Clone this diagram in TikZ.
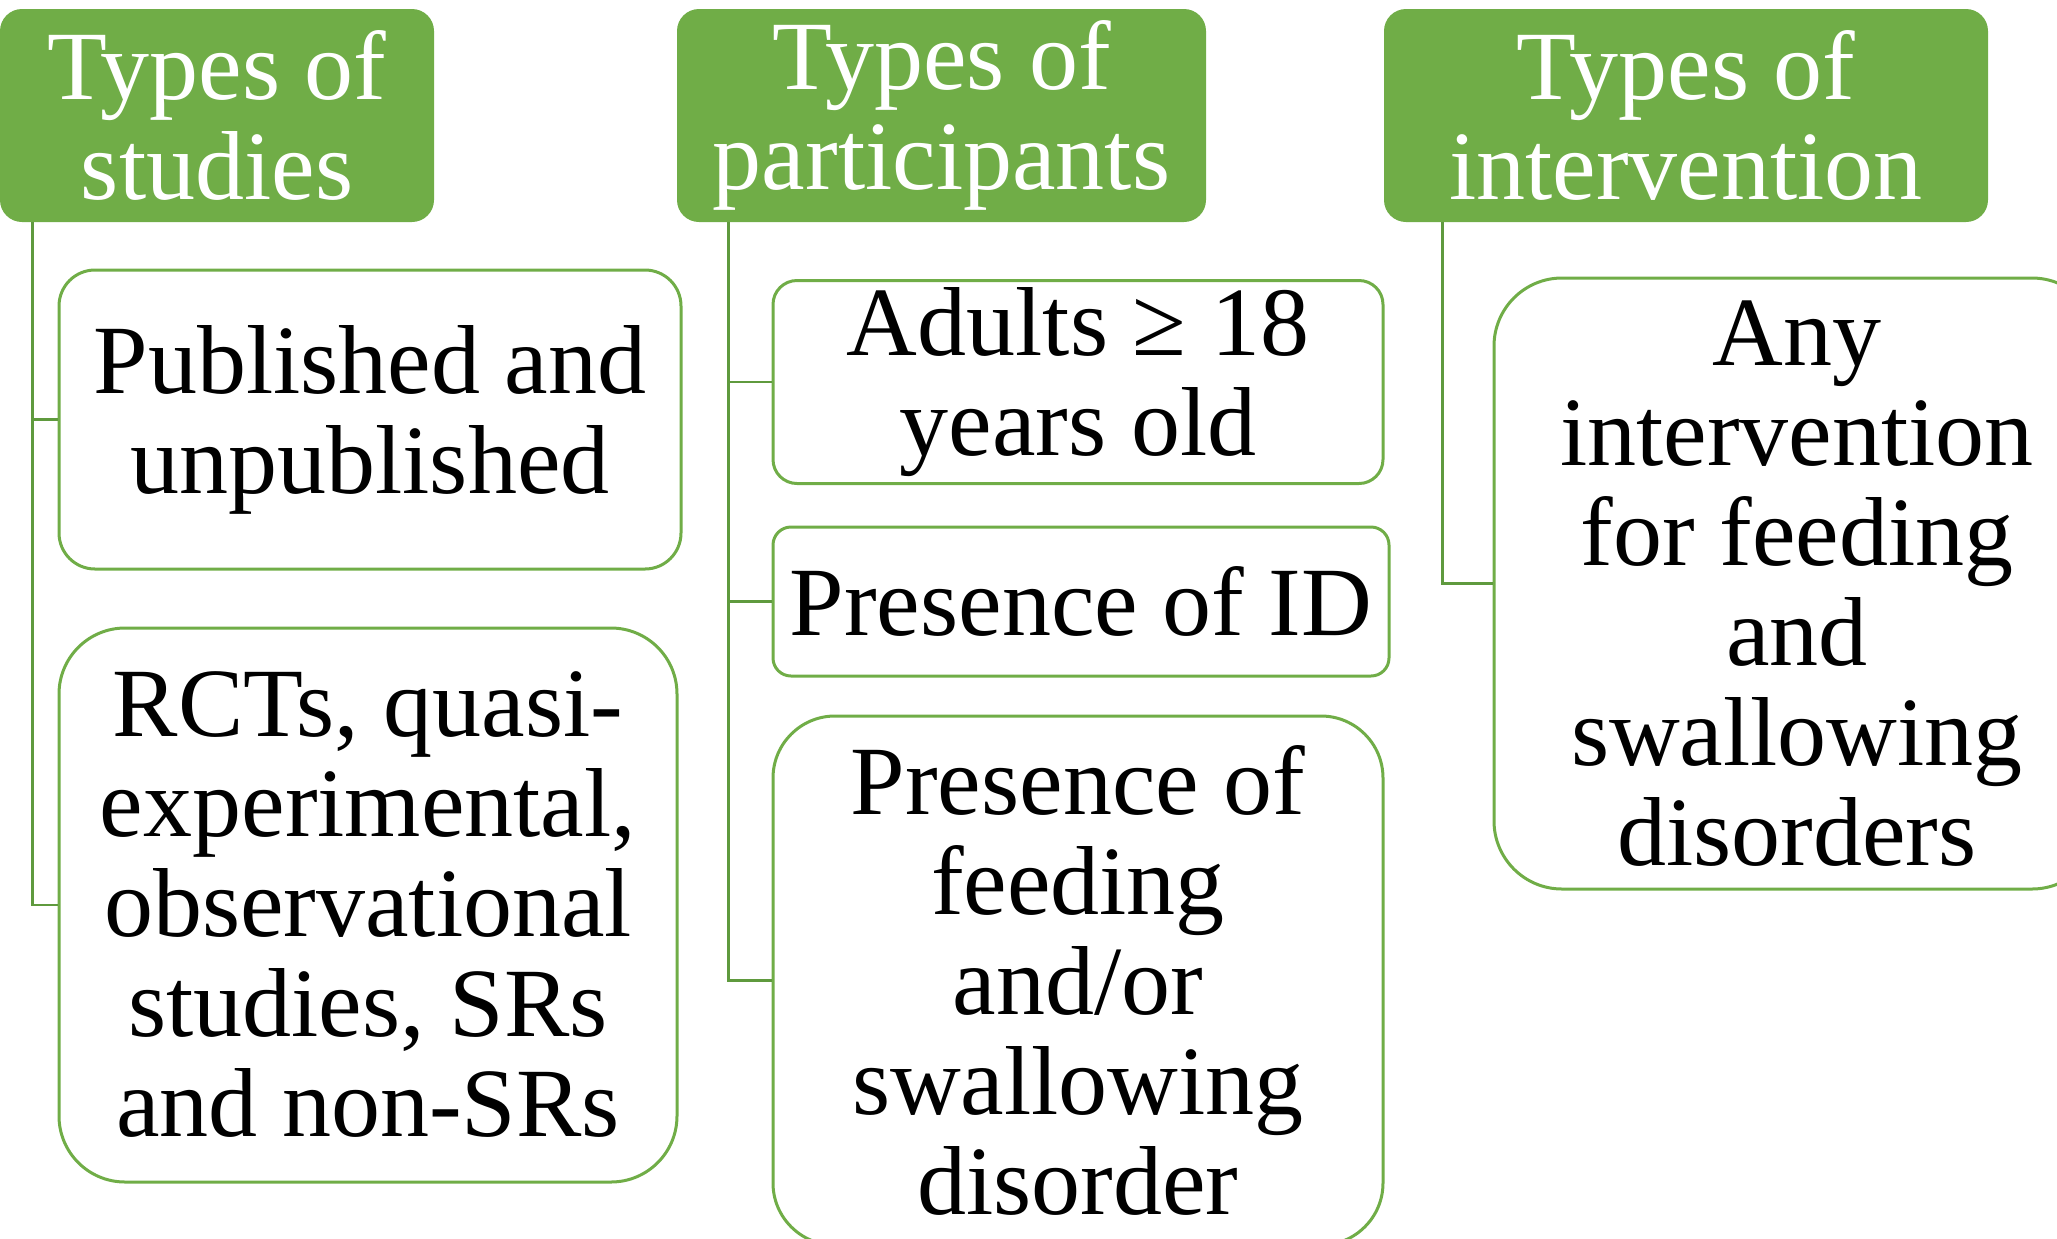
\documentclass[tikz,border=0pt]{standalone}
\usepackage{fontspec}
\setmainfont{Liberation Serif}
\usetikzlibrary{calc}
\definecolor{hdrgreen}{HTML}{70AD47}
\definecolor{bordgreen}{HTML}{70AD47}
\definecolor{conngreen}{HTML}{5F9A3E}
\begin{document}
\begin{tikzpicture}[x=0.5pt,y=-0.5pt,
  txt/.style={align=center, inner sep=0pt, font=\fontsize{49pt}{50pt}\selectfont},
  hdr/.style={txt, fill=hdrgreen, draw=none, text=white, rounded corners=11pt, minimum height=106.5pt},
  item/.style={txt, draw=bordgreen, line width=1.5pt, fill=white, text=black},
  link/.style={draw=conngreen, line width=1.2pt}]
\useasboundingbox (0,0) rectangle (2057,1238);

% headers
\node[hdr, minimum width=217pt] (h1) at (217,115.5) {Types of\\studies};
\node[hdr, minimum width=264.5pt] (h2) at (941.5,115.5) {Types of\\participants};
\node[hdr, minimum width=302pt] (h3) at (1686,115.5) {Types of\\intervention};

% column 1
\node[item, minimum width=311pt, minimum height=149.5pt, rounded corners=18pt] (b1) at (370,419.5) {Published and\\unpublished};
\node[item, minimum width=309pt, minimum height=277pt, rounded corners=33pt] (b2) at (368,905) {RCTs, quasi-\\experimental,\\observational\\studies, SRs\\and non-SRs};

% column 2
\node[item, minimum width=305pt, minimum height=101.5pt, rounded corners=12pt] (b3) at (1078,382) {Adults ≥ 18\\years old};
\node[item, minimum width=308pt, minimum height=74.5pt, rounded corners=9pt] (b4) at (1081,601.5) {Presence of ID};
\node[item, minimum width=305pt, minimum height=264.5pt, rounded corners=31pt] (b5) at (1078,980.5) {Presence of\\feeding\\and/or\\swallowing\\disorder};

% column 3
\node[item, minimum width=303pt, minimum height=305.5pt, rounded corners=34pt] (b6) at (1797,583.5) {Any\\intervention\\for feeding\\and\\swallowing\\disorders};

% connectors
\coordinate (s1) at ([xshift=16.5pt]h1.south west);
\coordinate (s2) at ([xshift=26pt]h2.south west);
\coordinate (s3) at ([xshift=29.5pt]h3.south west);

\draw[link] (s1) -- (s1 |- b2.west) -- (b2.west);
\draw[link] (s1 |- b1.west) -- (b1.west);

\draw[link] (s2) -- (s2 |- b5.west) -- (b5.west);
\draw[link] (s2 |- b3.west) -- (b3.west);
\draw[link] (s2 |- b4.west) -- (b4.west);

\draw[link] (s3) -- (s3 |- b6.west) -- (b6.west);
\end{tikzpicture}
\end{document}
